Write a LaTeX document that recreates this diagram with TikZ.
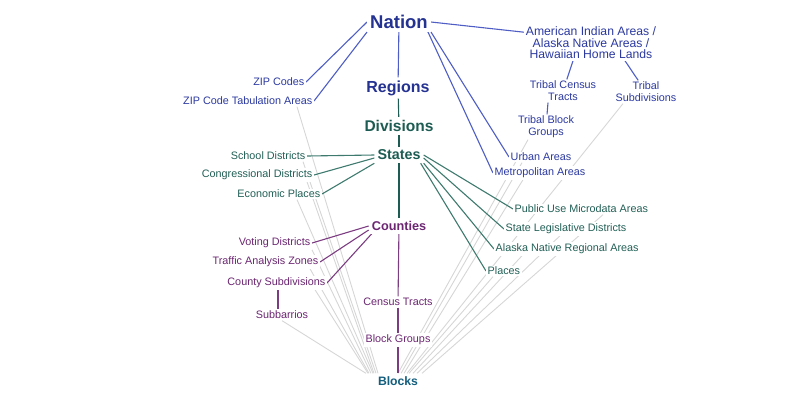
\documentclass[tikz,border=0pt]{standalone}
\usepackage{fontspec}
\setmainfont{Liberation Sans}
\usetikzlibrary{backgrounds}
\definecolor{natblue}{RGB}{36,50,145}
\definecolor{labblue}{RGB}{44,58,160}
\definecolor{linblue}{RGB}{78,94,196}
\definecolor{stgreen}{RGB}{28,92,82}
\definecolor{labgreen}{RGB}{34,96,86}
\definecolor{lingreen}{RGB}{62,122,110}
\definecolor{cnpurple}{RGB}{108,38,114}
\definecolor{linpurple}{RGB}{124,60,130}
\definecolor{blkblue}{RGB}{20,94,126}
\definecolor{greyline}{RGB}{214,214,214}

\begin{document}
\begin{tikzpicture}[x=1pt, y=-1pt,
  hub/.style={inner sep=3pt, fill=white, font=\bfseries\fontsize{#1}{#1}\selectfont},
  lbl/.style={inner sep=1.5pt, fill=white, align=center, font=\fontsize{10.8}{11.9}\selectfont},
  blue/.style={lbl, text=labblue},
  green/.style={lbl, text=labgreen},
  purple/.style={lbl, text=cnpurple},
  tie/.style={line width=1.1pt},
  greytie/.style={line width=0.9pt, draw=greyline}]
\useasboundingbox (0,0) rectangle (800,400);

% main chain
\node[hub=18.5, text=natblue] (nation) at (399,22) {Nation};
\node[hub=16, text=natblue] (regions) at (398,88) {Regions};
\node[hub=15.5, text=stgreen] (divisions) at (399,126) {Divisions};
\node[hub=14.3, text=stgreen] (states) at (399,155) {States};
\node[hub=12.7, text=cnpurple] (counties) at (399,226) {Counties};
\node[purple] (tracts) at (398,302) {Census Tracts};
\node[purple] (blockgroups) at (398,340) {Block Groups};
\node[hub=12.2, text=blkblue] (blocks) at (398,381) {Blocks};

% nation level
\node[blue, anchor=east] (zip) at (306,82) {ZIP Codes};
\node[blue, anchor=east] (zcta) at (314,101) {ZIP Code Tabulation Areas};
\node[blue, font=\fontsize{12.2}{11.6}\selectfont] (aian) at (591,43) {American Indian Areas /\\Alaska Native Areas /\\Hawaiian Home Lands};
\node[blue] (tribaltracts) at (563,91) {Tribal Census\\Tracts};
\node[blue] (tribalsub) at (646,92) {Tribal\\Subdivisions};
\node[blue] (tribalbg) at (546,127) {Tribal Block\\Groups};
\node[blue, anchor=west] (urban) at (509,157) {Urban Areas};
\node[blue, anchor=west] (metro) at (493,173) {Metropolitan Areas};

% state level
\node[green, anchor=east] (school) at (307,156) {School Districts};
\node[green, anchor=east] (congress) at (314,175) {Congressional Districts};
\node[green, anchor=east] (econ) at (322,194) {Economic Places};
\node[green, anchor=west] (puma) at (513,209) {Public Use Microdata Areas};
\node[green, anchor=west] (sld) at (504,229) {State Legislative Districts};
\node[green, anchor=west] (anra) at (494,249) {Alaska Native Regional Areas};
\node[green, anchor=west] (places) at (486,271) {Places};

% county level
\node[purple, anchor=east] (voting) at (312,243) {Voting Districts};
\node[purple, anchor=east] (taz) at (320,262) {Traffic Analysis Zones};
\node[purple, anchor=east] (countysub) at (327,283) {County Subdivisions};
\node[purple] (subbarrios) at (282,315) {Subbarrios};

\begin{scope}[on background layer]
\draw[greytie] ([xshift=-17pt]zcta.south east) -- ([xshift=-20pt]blocks.north);
\draw[greytie] ([xshift=-4pt]school.south east) -- ([xshift=-22pt]blocks.north);
\draw[greytie] ([xshift=-7pt]congress.south east) -- ([xshift=-24pt]blocks.north);
\draw[greytie] ([xshift=-25pt]econ.south east) -- ([xshift=-25pt]blocks.north);
\draw[greytie] (voting.south east) -- ([xshift=-27pt]blocks.north);
\draw[greytie] ([xshift=-10pt]taz.south east) -- ([xshift=-29pt]blocks.north);
\draw[greytie] ([xshift=-12pt]countysub.south east) -- ([xshift=-30pt]blocks.north);
\draw[greytie] (subbarrios.south) -- ([xshift=-32pt]blocks.north);
\draw[greytie] ([xshift=-18pt]tribalbg.south) -- (blocks.north);
\draw[greytie] ([xshift=13pt]urban.south west) -- ([xshift=3pt]blocks.north);
\draw[greytie] ([xshift=30pt]metro.south west) -- ([xshift=6pt]blocks.north);
\draw[greytie] ([xshift=-23pt]tribalsub.south) -- ([xshift=9pt]blocks.north);
\draw[greytie] ([xshift=7pt]places.south west) -- ([xshift=11pt]blocks.north);
\draw[greytie] ([xshift=28pt]anra.south west) -- ([xshift=15pt]blocks.north);
\draw[greytie] ([xshift=56pt]sld.south west) -- ([xshift=19pt]blocks.north);
\draw[greytie] ([xshift=90pt]puma.south west) -- ([xshift=24pt]blocks.north);

\draw[tie, linblue] (nation) -- (regions);
\draw[tie, stgreen] (regions) -- (divisions);
\draw[tie, stgreen] (divisions) -- (states);
\draw[tie, stgreen] (states) -- (counties);
\draw[tie, linpurple] (counties) -- (tracts);
\draw[tie, linpurple] (tracts) -- (blockgroups);
\draw[tie, linpurple] (blockgroups) -- (blocks);

\draw[tie, linblue] (nation.west) -- (zip.east);
\draw[tie, linblue] (nation.south west) -- (zcta.east);
\draw[tie, linblue] (nation.east) -- ([yshift=-7pt]aian.north west);
\draw[tie, linblue] (nation.south east) -- (urban.west);
\draw[tie, linblue] ([xshift=-3pt]nation.south east) -- (metro.west);
\draw[tie, linblue] ([xshift=-18pt]aian.south) -- (tribaltracts);
\draw[tie, linblue] ([xshift=34pt]aian.south) -- (tribalsub);
\draw[tie, linblue] ([xshift=-15pt]tribaltracts.south) -- (tribalbg);

\draw[tie, lingreen] (states.west) -- (school.east);
\draw[tie, lingreen] ([yshift=-3pt]states.west) -- (congress.east);
\draw[tie, lingreen] (states.south west) -- (econ.east);
\draw[tie, lingreen] (states.east) -- (puma.west);
\draw[tie, lingreen] ([yshift=-3pt]states.east) -- (sld.west);
\draw[tie, lingreen] (states.south east) -- (anra.west);
\draw[tie, lingreen] ([xshift=-3pt]states.south east) -- (places.west);

\draw[tie, linpurple] (counties.west) -- (voting.east);
\draw[tie, linpurple] ([yshift=-4pt]counties.west) -- (taz.east);
\draw[tie, linpurple] ([xshift=3pt]counties.south west) -- (countysub.east);
\draw[tie, linpurple] ([xshift=-49pt]countysub.south east) -- ([xshift=-49pt]countysub.south east |- subbarrios.north);
\end{scope}
\end{tikzpicture}
\end{document}
